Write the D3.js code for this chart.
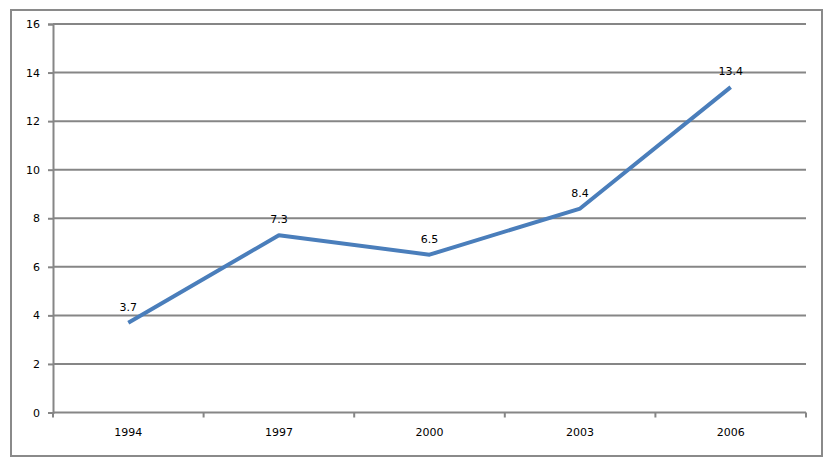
<!DOCTYPE html>
<html>
<head>
<meta charset="utf-8">
<script src="https://cdn.jsdelivr.net/npm/d3@7"></script>
<style>
body { margin: 0; background: #fff; }
text { font-family: "DejaVu Sans", Verdana, sans-serif; font-size: 10px; fill: #000; }
</style>
</head>
<body>
<div id="chart"></div>
<script>
// data
var years = ["1994", "1997", "2000", "2003", "2006"];
var values = [3.7, 7.3, 6.5, 8.4, 13.4];
var yTicks = [0, 2, 4, 6, 8, 10, 12, 14, 16];

var W = 829, H = 464;
var margin = {top: 24, right: 23, bottom: 51.5, left: 53},
    width = W - margin.left - margin.right,
    height = H - margin.top - margin.bottom;

var svg = d3.select("#chart").append("svg")
    .attr("width", W)
    .attr("height", H);

// outer frame
svg.append("rect")
    .attr("x", 11).attr("y", 10)
    .attr("width", 811).attr("height", 446)
    .attr("fill", "none")
    .attr("stroke", "#8a8a8a")
    .attr("stroke-width", 2);

var g = svg.append("g")
    .attr("transform", "translate(" + margin.left + "," + margin.top + ")");

var x = d3.scaleBand().domain(years).range([0, width]);
var y = d3.scaleLinear().domain([0, 16]).range([height, 0]);

// gridlines
g.selectAll(".grid")
    .data(yTicks)
    .enter().append("line")
    .attr("x1", 0).attr("x2", width)
    .attr("y1", function(d) { return y(d); })
    .attr("y2", function(d) { return y(d); })
    .attr("stroke", "#868686")
    .attr("stroke-width", 2);

// y axis
var yAxis = g.append("g")
    .call(d3.axisLeft(y).tickValues(yTicks).tickSize(5).tickPadding(8));
yAxis.select(".domain").attr("stroke", "#868686").attr("stroke-width", 2);
yAxis.selectAll(".tick line").attr("stroke", "#868686").attr("stroke-width", 2);
yAxis.selectAll("text").style("font-size", "11px");

// x axis: ticks at category boundaries
var xAxis = g.append("g")
    .attr("transform", "translate(0," + height + ")")
    .call(d3.axisBottom(x).tickSize(0).tickPadding(16));
xAxis.select(".domain").remove();
xAxis.selectAll("text").style("font-size", "11px");

var bounds = years.map(function(d) { return x(d); }).concat([width]);
g.selectAll(".xtick")
    .data(bounds)
    .enter().append("line")
    .attr("x1", function(d) { return d; })
    .attr("x2", function(d) { return d; })
    .attr("y1", height)
    .attr("y2", height + 5)
    .attr("stroke", "#868686")
    .attr("stroke-width", 2);

// line
var line = d3.line()
    .x(function(d, i) { return x(years[i]) + x.bandwidth() / 2; })
    .y(function(d) { return y(d); });

g.append("path")
    .datum(values)
    .attr("d", line)
    .attr("fill", "none")
    .attr("stroke", "#4a7ebb")
    .attr("stroke-width", 4)
    .attr("stroke-linejoin", "round");

// data labels
g.selectAll(".lbl")
    .data(values)
    .enter().append("text")
    .attr("x", function(d, i) { return x(years[i]) + x.bandwidth() / 2; })
    .attr("y", function(d) { return y(d) - 12; })
    .attr("text-anchor", "middle")
    .style("font-size", "11px")
    .text(function(d) { return d.toFixed(1); });
</script>
</body>
</html>
